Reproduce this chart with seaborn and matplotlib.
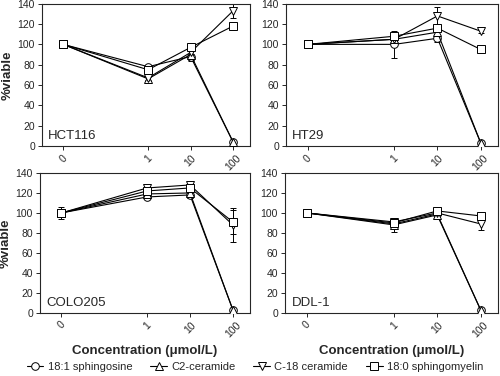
import numpy as np
import pandas as pd
import matplotlib
matplotlib.use("Agg")
import matplotlib.pyplot as plt
from matplotlib.lines import Line2D
import seaborn as sns

sns.set_style("ticks")
plt.rcParams["font.family"] = ["Liberation Sans", "DejaVu Sans"]

concentrations = [0, 1, 10, 100]
conc_labels = ["0", "1", "10", "100"]
compounds = ["18:1 sphingosine", "C2-ceramide", "C-18 ceramide", "18:0 sphingomyelin"]
markers = {"18:1 sphingosine": "o", "C2-ceramide": "^",
           "C-18 ceramide": "v", "18:0 sphingomyelin": "s"}
cell_lines = ["HCT116", "HT29", "COLO205", "DDL-1"]

# mean % viable, one list per compound (order of `compounds`)
hct116 = [[100, 78, 88, 4], [100, 66, 90, 4], [100, 67, 92, 133], [100, 75, 97, 118]]
ht29 = [[100, 100, 106, 3], [100, 105, 112, 3], [100, 105, 128, 113], [100, 108, 116, 95]]
colo205 = [[100, 116, 118, 3], [100, 119, 120, 3], [100, 125, 128, 88], [100, 122, 125, 91]]
ddl1 = [[100, 89, 99, 3], [100, 88, 98, 3], [100, 91, 100, 89], [100, 90, 102, 97]]

# error bars (SD)
hct116_err = [[0, 2, 3, 1], [0, 2, 6, 1], [0, 2, 3, 7], [0, 2, 3, 4]]
ht29_err = [[0, 13, 4, 1], [0, 3, 5, 1], [0, 2, 9, 2], [0, 3, 4, 2]]
colo205_err = [[6, 2, 3, 1], [3, 3, 3, 1], [2, 3, 3, 17], [2, 2, 2, 12]]
ddl1_err = [[0, 3, 2, 1], [0, 7, 2, 1], [0, 4, 3, 6], [0, 3, 2, 2]]

panel_values = [hct116, ht29, colo205, ddl1]
panel_errors = [hct116_err, ht29_err, colo205_err, ddl1_err]

# 0 is drawn two decades below 1 on the log axis
xpos = [-2 if c == 0 else np.log10(c) for c in concentrations]

fig = plt.figure(figsize=(5.0, 3.76), dpi=100)
rects = [[0.084, 0.612, 0.416, 0.378], [0.572, 0.612, 0.424, 0.378],
         [0.080, 0.168, 0.420, 0.372], [0.570, 0.168, 0.426, 0.372]]

for i, (name, vals, errs) in enumerate(zip(cell_lines, panel_values, panel_errors)):
    ax = fig.add_axes(rects[i])
    rows = []
    for comp, v in zip(compounds, vals):
        for x, y in zip(xpos, v):
            rows.append({"x": x, "viable": y, "compound": comp})
    df = pd.DataFrame(rows)
    for comp, v, e in zip(compounds, vals, errs):
        ax.errorbar(xpos, v, yerr=e, fmt="none", ecolor="black",
                    elinewidth=0.7, capsize=2.5, capthick=0.7, zorder=1)
    sns.lineplot(data=df, x="x", y="viable", hue="compound", style="compound",
                 palette=["black"] * 4, markers=markers, dashes=False, ax=ax,
                 legend=False, linewidth=0.8, markersize=5.5,
                 markerfacecolor="white", markeredgecolor="black",
                 markeredgewidth=0.7, zorder=3)
    ax.set_xlim(-2.5, 2.4)
    ax.set_ylim(0, 140)
    ax.set_yticks(range(0, 141, 20))
    ax.set_xticks(xpos)
    ax.set_xticklabels(conc_labels, rotation=45, ha="center")
    ax.tick_params(labelsize=7.5, length=3, width=0.7, pad=2)
    for s in ax.spines.values():
        s.set_linewidth(0.8)
        s.set_visible(True)
    ax.set_xlabel("Concentration (\u03bcmol/L)" if i >= 2 else "",
                  fontsize=9.5, fontweight="bold", labelpad=4)
    ax.set_ylabel("%viable" if i % 2 == 0 else "", fontsize=9.5,
                  fontweight="bold", labelpad=3)
    ax.text(0.03, 0.03, name, transform=ax.transAxes, fontsize=9.5,
            ha="left", va="bottom")

handles = [Line2D([], [], color="black", lw=0.8, marker=markers[c], markersize=5.5,
                  markerfacecolor="white", markeredgewidth=0.7) for c in compounds]
fig.legend(handles, compounds, loc="lower center", bbox_to_anchor=(0.51, -0.015),
           ncol=4, frameon=False, fontsize=8, handlelength=1.5,
           handletextpad=0.4, columnspacing=1.6)

fig.savefig("out.png", dpi=100)
